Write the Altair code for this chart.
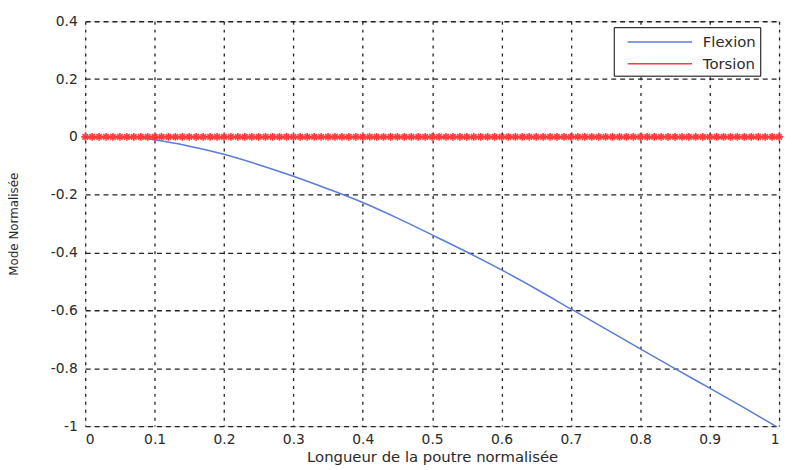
import altair as alt
import pandas as pd

BLUE = "#5a7bd8"
RED = "#ff3b3b"

# Flexion mode
flex_x = [0.074, 0.10, 0.15, 0.20, 0.25, 0.30, 0.35, 0.40, 0.45, 0.50,
          0.55, 0.60, 0.65, 0.70, 0.75, 0.80, 0.85, 0.90, 0.95, 0.995]
flex_y = [-0.002, -0.010, -0.032, -0.060, -0.096, -0.136, -0.180, -0.227, -0.281, -0.339,
          -0.398, -0.460, -0.526, -0.595, -0.664, -0.733, -0.801, -0.869, -0.937, -1.000]

# Torsion mode (flat at zero)
tors_x = [0.00, 0.01, 0.02, 0.03, 0.04, 0.05, 0.06, 0.07, 0.08, 0.09,
          0.10, 0.11, 0.12, 0.13, 0.14, 0.15, 0.16, 0.17, 0.18, 0.19,
          0.20, 0.21, 0.22, 0.23, 0.24, 0.25, 0.26, 0.27, 0.28, 0.29,
          0.30, 0.31, 0.32, 0.33, 0.34, 0.35, 0.36, 0.37, 0.38, 0.39,
          0.40, 0.41, 0.42, 0.43, 0.44, 0.45, 0.46, 0.47, 0.48, 0.49,
          0.50, 0.51, 0.52, 0.53, 0.54, 0.55, 0.56, 0.57, 0.58, 0.59,
          0.60, 0.61, 0.62, 0.63, 0.64, 0.65, 0.66, 0.67, 0.68, 0.69,
          0.70, 0.71, 0.72, 0.73, 0.74, 0.75, 0.76, 0.77, 0.78, 0.79,
          0.80, 0.81, 0.82, 0.83, 0.84, 0.85, 0.86, 0.87, 0.88, 0.89,
          0.90, 0.91, 0.92, 0.93, 0.94, 0.95, 0.96, 0.97, 0.98, 0.99,
          1.00]
tors_y = [0, 0, 0, 0, 0, 0, 0, 0, 0, 0,
          0, 0, 0, 0, 0, 0, 0, 0, 0, 0,
          0, 0, 0, 0, 0, 0, 0, 0, 0, 0,
          0, 0, 0, 0, 0, 0, 0, 0, 0, 0,
          0, 0, 0, 0, 0, 0, 0, 0, 0, 0,
          0, 0, 0, 0, 0, 0, 0, 0, 0, 0,
          0, 0, 0, 0, 0, 0, 0, 0, 0, 0,
          0, 0, 0, 0, 0, 0, 0, 0, 0, 0,
          0, 0, 0, 0, 0, 0, 0, 0, 0, 0,
          0, 0, 0, 0, 0, 0, 0, 0, 0, 0,
          0]

series = ["Flexion", "Torsion"]
x_ticks = [0, 0.1, 0.2, 0.3, 0.4, 0.5, 0.6, 0.7, 0.8, 0.9, 1]
y_ticks = [-1, -0.8, -0.6, -0.4, -0.2, 0, 0.2, 0.4]

df_f = pd.DataFrame({"x": flex_x, "y": flex_y, "serie": series[0]})
df_t = pd.DataFrame({"x": tors_x, "y": tors_y, "serie": series[1]})

FONT = "DejaVu Sans"
TXT = "#2a2a2a"

xs = alt.Scale(domain=[0, 1], nice=False, zero=False)
ys = alt.Scale(domain=[-1, 0.4], nice=False, zero=False)

x_enc = alt.X("x:Q", scale=xs, axis=alt.Axis(
    values=x_ticks, title="Longueur de la poutre normalisée",
    labelExpr="replace(format(datum.value, '~g'), '\u2212', '-')",
    grid=True, gridDash=[3, 5], gridColor="#222222", gridWidth=1.3,
    ticks=False, labelPadding=7, titlePadding=3,
    labelFontSize=14, titleFontSize=15, labelFont=FONT, titleFont=FONT,
    labelColor=TXT, titleColor=TXT, titleFontWeight="normal",
    domain=False))
y_enc = alt.Y("y:Q", scale=ys, axis=alt.Axis(
    values=y_ticks, title="Mode Normalisée",
    labelExpr="replace(format(datum.value, '~g'), '\u2212', '-')",
    grid=True, gridDash=[5, 4], gridColor="#222222", gridWidth=1.3,
    ticks=False, labelPadding=8, titlePadding=30,
    labelFontSize=14, titleFontSize=12, labelFont=FONT, titleFont=FONT,
    labelColor=TXT, titleColor=TXT, titleFontWeight="normal",
    domain=False))

color = alt.Color("serie:N", scale=alt.Scale(domain=series, range=[BLUE, RED]),
                  legend=alt.Legend(title=None, orient="none", legendX=534, legendY=6,
                                    strokeColor="black", fillColor="white",
                                    padding=4, symbolType="M-0.1,0H6.4", symbolSize=400,
                                    symbolStrokeWidth=1.6, labelFontSize=15,
                                    labelFont=FONT, labelColor=TXT,
                                    rowPadding=3, labelOffset=64))

flex_line = alt.Chart(df_f).mark_line(strokeWidth=1.5, interpolate="monotone").encode(
    x=x_enc, y=y_enc, color=color)
tors_line = alt.Chart(df_t).mark_line(strokeWidth=3).encode(x=x_enc, y=y_enc, color=color)
tors_pts = alt.Chart(df_t).mark_point(
    shape="M-1,0L1,0M0,-1L0,1M-0.7,-0.7L0.7,0.7M-0.7,0.7L0.7,-0.7",
    filled=False, size=64, strokeWidth=1.6, opacity=1
).encode(x=x_enc, y=y_enc, color=alt.value(RED))

chart = alt.layer(flex_line, tors_line, tors_pts).properties(
    width=701, height=409,
    autosize=alt.AutoSizeParams(type="none"),
    padding={"left": 78, "top": 11, "right": 6, "bottom": 42},
).configure_view(stroke="black", strokeWidth=1.5).configure(background="white")

chart.save("out.html", embed_options={"renderer": "svg", "actions": False})
